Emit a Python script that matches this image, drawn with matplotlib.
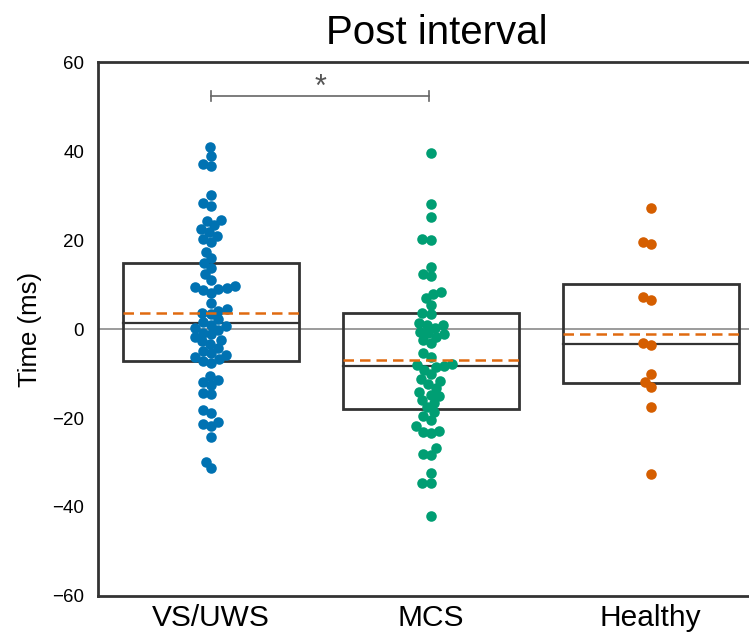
import numpy as np
from matplotlib import pyplot as plt
from matplotlib.patches import Rectangle

# groups on the x axis
groups = ['VS/UWS', 'MCS', 'Healthy']
colors = ['#0072B2', '#009E73', '#D55E00']

# post interval times (ms)
vs_uws = [40.8, 38.9, 37.0, 36.7, 30.1, 28.4, 27.6,
          24.6, 24.3, 23.3, 22.5, 21.8, 21.0, 20.2, 19.6, 17.4, 15.9, 14.8, 13.6, 12.3, 11.0,
          9.6, 9.4, 9.2, 9.0, 8.8, 8.0,
          5.9, 4.5, 4.1, 3.7, 3.3, 2.2, 1.5, 1.0, 0.6, 0.2, -0.3, -0.8, -1.2, -1.8, -2.5, -2.8, -3.4,
          -4.2, -5.0, -5.4, -5.9, -6.3, -6.8, -7.2, -7.6,
          -10.6, -11.4, -11.8, -12.5, -14.4, -14.7,
          -18.2, -18.9, -20.8, -21.3, -21.7, -24.3, -29.8, -31.3]
mcs = [39.6, 28.2, 25.1, 20.2, 20.1, 13.9, 12.4, 11.9, 8.3, 7.9, 6.9, 5.4, 3.6, 3.4,
       1.3, 1.0, 0.8, 0.3, -0.6, -0.9, -1.2, -1.7, -2.4, -3.2, -5.3, -6.2,
       -7.9, -8.1, -8.3, -8.6, -9.2, -10.2, -11.3, -11.6, -12.4, -13.3, -14.2, -14.8, -15.1,
       -16.0, -16.6, -17.6, -18.6, -19.6, -20.4, -21.8, -22.9, -23.1, -23.4,
       -26.8, -28.0, -28.4, -32.3, -34.5, -34.7, -42.0]
healthy = [27.3, 19.6, 19.1, 7.3, 6.5, -3.1, -3.7, -10.0, -11.8, -13.1, -17.5, -32.6]

# box statistics (quartiles, median, mean)
q1 = [-7.1, -18.0, -12.2]
median = [1.4, -8.3, -3.4]
q3 = [14.8, 3.7, 10.1]
mean = [3.5, -7.0, -1.1]

# significance bracket
sig_pair = (0, 1)
sig_y = 52.4
sig_text = '*'


def swarm_offsets(values, d_px, y_scale):
    # simple beeswarm: place points bottom-up, as close to the centre as possible
    vals = np.asarray(values, dtype=float)
    xs = np.zeros(len(vals))
    placed = []
    for idx in np.argsort(vals, kind='stable'):
        y = vals[idx] * y_scale
        cands = [0.0]
        for px, py in placed:
            dy = abs(py - y)
            if dy < d_px:
                dx = np.sqrt(d_px ** 2 - dy ** 2)
                cands += [px - dx, px + dx]
        cands.sort(key=lambda c: (round(abs(c), 6), c))
        for c in cands:
            if all((c - px) ** 2 + (y - py) ** 2 >= d_px ** 2 - 1e-6 for px, py in placed):
                xs[idx] = c
                placed.append((c, y))
                break
    return xs


plt.rcParams['font.family'] = ['Liberation Sans', 'DejaVu Sans']

fig = plt.figure(figsize=(7.49, 6.36), dpi=100)
ax = fig.add_axes([0.1308, 0.0629, 0.889, 0.8396])
ax.set_xlim(-0.514, 2.514)
ax.set_ylim(-60, 60)

bbox = ax.get_window_extent()
x_scale = bbox.width / 3.028
y_scale = bbox.height / 120.0

ax.axhline(0, color='#8a8a8a', lw=1.2, zorder=1)

for i, vals in enumerate([vs_uws, mcs, healthy]):
    off = swarm_offsets(vals, 8.5, y_scale) / x_scale
    ax.scatter(i + off, vals, s=7.6 ** 2, color=colors[i], linewidths=0, zorder=3)

w = 0.8
for i in range(len(groups)):
    ax.add_patch(Rectangle((i - w / 2, q1[i]), w, q3[i] - q1[i], fill=False,
                           edgecolor='#333333', lw=2, zorder=2))
    ax.plot([i - w / 2, i + w / 2], [median[i]] * 2, color='#333333', lw=1.6, zorder=2)
    ax.plot([i - w / 2, i + w / 2], [mean[i]] * 2, color='#E06A10', lw=1.8,
            dashes=(4.2, 2.4), zorder=4)

# bracket
a, b = sig_pair
ax.plot([a, b - 0.01], [sig_y, sig_y], color='#666666', lw=1.2)
ax.plot([a, a], [sig_y - 1.1, sig_y + 1.1], color='#666666', lw=1.2)
ax.plot([b - 0.01, b - 0.01], [sig_y - 1.1, sig_y + 1.1], color='#666666', lw=1.2)
ax.text((a + b) / 2, sig_y - 1.7, sig_text, ha='center', va='bottom',
        fontsize=22, color='#555555')

ax.set_yticks([-60, -40, -20, 0, 20, 40, 60])
ax.set_yticklabels(['\u221260', '\u221240', '\u221220', '0', '20', '40', '60'])
ax.set_xticks(range(len(groups)))
ax.set_xticklabels(groups)
ax.tick_params(axis='y', length=0, pad=10, labelsize=13.5)
ax.tick_params(axis='x', length=0, pad=6, labelsize=21.5)
ax.set_ylabel('Time (ms)', fontsize=18.5, labelpad=7)

for side in ['left', 'bottom', 'top']:
    ax.spines[side].set_color('#333333')
    ax.spines[side].set_linewidth(2)
ax.spines['right'].set_visible(False)

ax.set_title('Post interval', fontsize=29, pad=13, x=0.509)

fig.savefig('out.png', dpi=100)
